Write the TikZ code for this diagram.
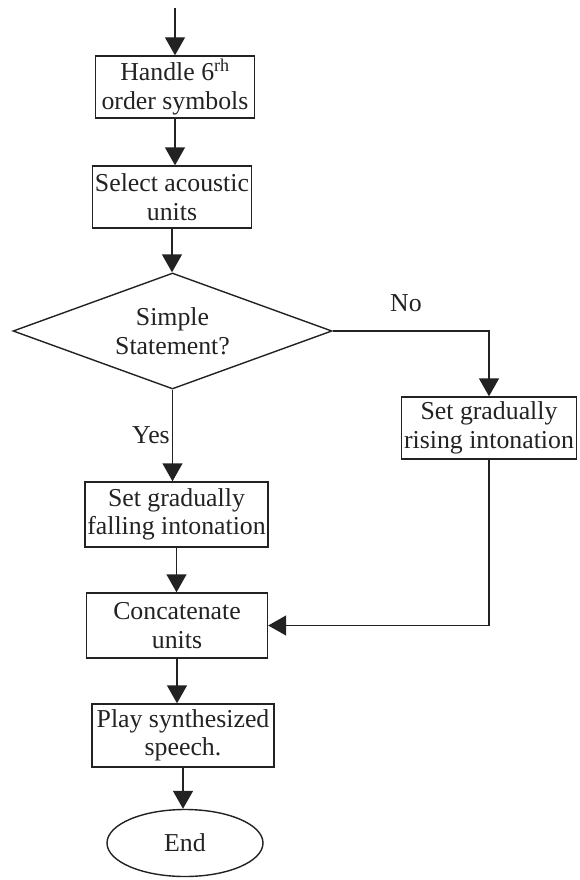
\documentclass[tikz,border=0pt]{standalone}
\usepackage{fontspec}
\setmainfont{Liberation Serif}
\usetikzlibrary{arrows.meta,shapes.geometric}
\definecolor{ink}{HTML}{222222}
\begin{document}
\begin{tikzpicture}[x=1pt,y=-1pt,line width=1.4pt,
  every node/.style={font=\fontsize{25.8}{28.5}\selectfont, text=ink},
  proc/.style={draw=ink, rectangle, inner sep=0pt, align=center},
  decision/.style={draw=ink, diamond, inner sep=0pt, align=center,
    shape aspect=2.75, minimum width=319pt, minimum height=116pt},
  terminal/.style={draw=ink, ellipse, inner sep=0pt,
    minimum width=156pt, minimum height=67pt},
  arr/.style={draw=ink, -{Triangle[width=20pt,length=18pt]}}]
\useasboundingbox (0,0) rectangle (580,880);

% process steps
\node[proc, minimum width=159pt, minimum height=62pt] (b1) at (175,87)
  {Handle 6\textsuperscript{rh}\\order symbols};
\node[proc, minimum width=159pt, minimum height=62pt] (b2) at (172,197)
  {Select acoustic\\units};
\node[decision] (d) at (172.5,331) {Simple\\Statement?};
\node[proc, minimum width=175pt, minimum height=62pt] (rise) at (489,428)
  {Set gradually\\rising intonation};
\node[proc, minimum width=183pt, minimum height=65pt] (fall) at (176.5,514.5)
  {Set gradually\\falling intonation};
\node[proc, minimum width=181pt, minimum height=65pt] (cat) at (177,625.5)
  {Concatenate\\units};
\node[proc, minimum width=182pt, minimum height=63pt] (play) at (183,735.5)
  {Play synthesized\\speech.};
\node[terminal] (end) at (185,843) {End};

% branch labels
\node (no) at (406,303) {No};
\node (yes) at (151,435) {Yes};

% connectors
\coordinate (start) at (b1.north |- 0,8);
\draw[arr] (start) -- (b1.north);
\draw[arr] (b1.south) -- (b1.south |- b2.north);
\draw[arr] (b2.south) -- (b2.south |- d.north);
\draw[arr] (d.east) -| (rise.north);
\draw[arr] (d.south) -- (d.south |- fall.north);
\draw[arr] (rise.south) |- (cat.east);
\draw[arr] (fall.south) -- (fall.south |- cat.north);
\draw[arr] (cat.south) -- (cat.south |- play.north);
\draw[arr] (play.south) -- (play.south |- end.north);
\end{tikzpicture}
\end{document}
